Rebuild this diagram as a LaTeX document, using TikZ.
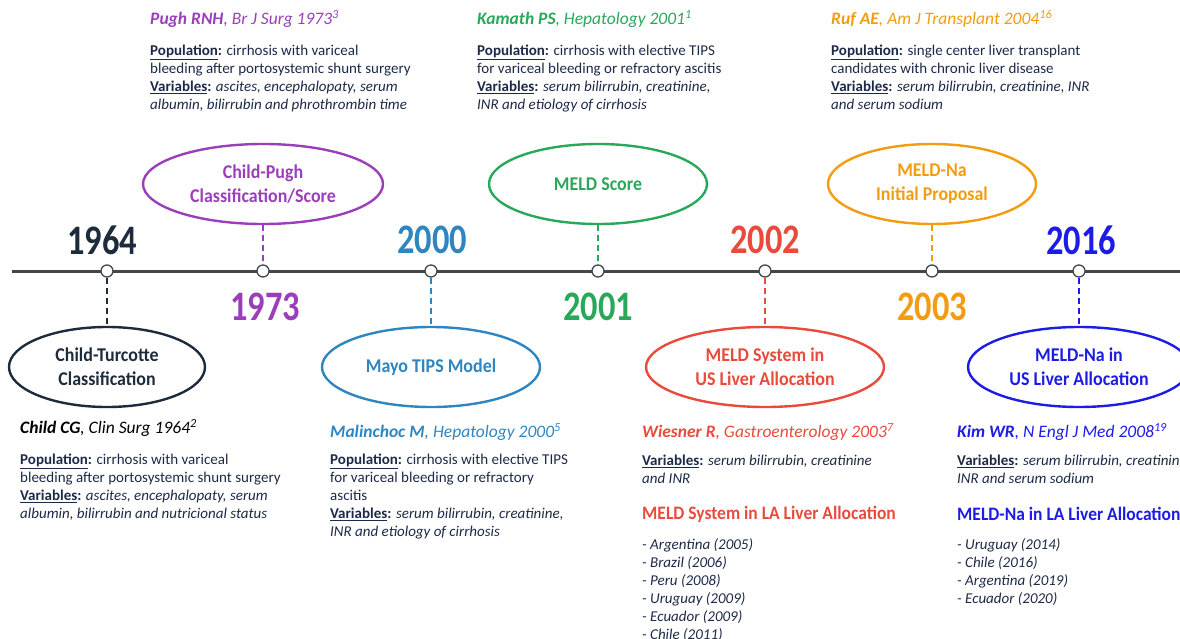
\documentclass[tikz,border=0pt]{standalone}
\usepackage{fontspec}
\setmainfont{Carlito}
\newfontfamily\condfont{Carlito}[FakeStretch=0.82]
\newfontfamily\narrowfont{Carlito}[FakeStretch=0.92]
\usetikzlibrary{shapes.geometric}
\definecolor{ink}{HTML}{1C2A48}
\definecolor{axis}{HTML}{41474F}
\definecolor{dark}{HTML}{1E2B3C}
\definecolor{purple}{HTML}{9A3FB9}
\definecolor{steel}{HTML}{2E86C1}
\definecolor{green}{HTML}{2AA85A}
\definecolor{red}{HTML}{E84B3C}
\definecolor{orange}{HTML}{F39C12}
\definecolor{vivid}{HTML}{1C1CE4}
\newcommand{\popl}{\textbf{\underline{Population}:}}
\newcommand{\varl}{\textbf{\underline{Variables}:}}
\tikzset{
  yearlabel/.style={inner sep=0pt, font=\condfont\bfseries\fontsize{42}{42}\selectfont},
  oval/.style={ellipse, draw, line width=2.4pt, minimum height=80pt, inner sep=0pt,
    align=center, font=\narrowfont\bfseries\fontsize{19.5}{24}\selectfont},
  yearstop/.style={circle, draw=axis, fill=white, line width=1.3pt, minimum size=12pt, inner sep=0pt},
  link/.style={dash pattern=on 6pt off 4pt, line width=1.5pt},
  reftitle/.style={anchor=west, inner sep=0pt, font=\itshape\fontsize{17.5}{18}\selectfont},
  refbody/.style={anchor=north west, inner sep=0pt, align=left, text=ink,
    font=\fontsize{15}{18}\selectfont},
  allochead/.style={anchor=west, inner sep=0pt, font=\narrowfont\bfseries\fontsize{19}{24}\selectfont},
}
\begin{document}
\begin{tikzpicture}[x=1pt, y=-1pt]
  \useasboundingbox (0,0) rectangle (1180,639);

  % timeline
  \coordinate (tl-start) at (12,271);
  \coordinate (tl-end) at (1180,271);
  \draw[axis, line width=3pt] (tl-start) -- (tl-end);
  \foreach \yr/\px in {1964/107, 1973/263, 2000/431, 2001/598, 2002/765, 2003/932, 2016/1079}
    \node[yearstop] (s\yr) at (\px,271) {};

  % years
  \node[yearlabel, text=dark]   (y1964) at (102,240) {1964};
  \node[yearlabel, text=purple] (y1973) at (265,307) {1973};
  \node[yearlabel, text=steel]  (y2000) at (432,240) {2000};
  \node[yearlabel, text=green]  (y2001) at (598,307) {2001};
  \node[yearlabel, text=red]    (y2002) at (765,240) {2002};
  \node[yearlabel, text=orange] (y2003) at (932,307) {2003};
  \node[yearlabel, text=vivid]  (y2016) at (1081,240) {2016};

  % ovals above the line
  \node[oval, draw=purple, text=purple, minimum width=240pt] (cp) at (263,184) {Child-Pugh\\Classification/Score};
  \node[oval, draw=green, text=green, minimum width=218pt] (meld) at (598,184) {MELD Score};
  \node[oval, draw=orange, text=orange, minimum width=208pt] (meldna) at (932,184) {MELD-Na\\Initial Proposal};

  % ovals below the line
  \node[oval, draw=dark, text=dark, minimum width=196pt] (ct) at (107,367) {Child-Turcotte\\Classification};
  \node[oval, draw=steel, text=steel, minimum width=218pt] (mayo) at (431,367) {Mayo TIPS Model};
  \node[oval, draw=red, text=red, minimum width=238pt] (meldus) at (765,367) {MELD System in\\US Liver Allocation};
  \node[oval, draw=vivid, text=vivid, minimum width=222pt] (meldnaus) at (1079,367) {MELD-Na in\\US Liver Allocation};

  \foreach \from/\to/\col in {cp/s1973/purple, meld/s2001/green, meldna/s2003/orange}
    \draw[link, \col] (\from.south) -- (\to.north);
  \foreach \from/\to/\col in {s1964/ct/dark, s2000/mayo/steel, s2002/meldus/red, s2016/meldnaus/vivid}
    \draw[link, \col] (\from.south) -- (\to.north);

  % references above
  \node[reftitle, text=purple] (pugh) at (150,19) {\textbf{Pugh RNH}, Br J Surg 1973\textsuperscript{3}};
  \node[refbody] (pugh-txt) at (150,45) {\popl{} cirrhosis with variceal\\bleeding after portosystemic shunt surgery\\
    \varl{} \textit{ascites, encephalopaty, serum}\\\textit{albumin, bilirrubin and phrothrombin time}};
  \node[reftitle, text=green] (kamath) at (477,19) {\textbf{Kamath PS}, Hepatology 2001\textsuperscript{1}};
  \node[refbody] (kamath-txt) at (477,45) {\popl{} cirrhosis with elective TIPS\\for variceal bleeding or refractory ascitis\\
    \varl{} \textit{serum bilirrubin, creatinine,}\\\textit{INR and etiology of cirrhosis}};
  \node[reftitle, text=orange] (ruf) at (831,19) {\textbf{Ruf AE}, Am J Transplant 2004\textsuperscript{16}};
  \node[refbody] (ruf-txt) at (831,45) {\popl{} single center liver transplant\\candidates with chronic liver disease\\
    \varl{} \textit{serum bilirrubin, creatinine, INR}\\\textit{and serum sodium}};

  % references below
  \node[reftitle, text=black] (child) at (20,428) {\textbf{Child CG}, Clin Surg 1964\textsuperscript{2}};
  \node[refbody] (child-txt) at (20,454) {\popl{} cirrhosis with variceal\\bleeding after portosystemic shunt surgery\\
    \varl{} \textit{ascites, encephalopaty, serum}\\\textit{albumin, bilirrubin and nutricional status}};
  \node[reftitle, text=steel] (malinchoc) at (330,432) {\textbf{Malinchoc M}, Hepatology 2000\textsuperscript{5}};
  \node[refbody] (malinchoc-txt) at (330,454) {\popl{} cirrhosis with elective TIPS\\for variceal bleeding or refractory\\ascitis\\
    \varl{} \textit{serum bilirrubin, creatinine,}\\\textit{INR and etiology of cirrhosis}};
  \node[reftitle, text=red] (wiesner) at (642,432) {\textbf{Wiesner R}, Gastroenterology 2003\textsuperscript{7}};
  \node[refbody] (wiesner-txt) at (642,455) {\varl{} \textit{serum bilirrubin, creatinine}\\\textit{and INR}};
  \node[allochead, text=red] (meld-la) at (642,514) {MELD System in LA Liver Allocation};
  \node[refbody] (meld-la-list) at (642,538) {\textit{- Argentina (2005)}\\\textit{- Brazil (2006)}\\\textit{- Peru (2008)}\\
    \textit{- Uruguay (2009)}\\\textit{- Ecuador (2009)}\\\textit{- Chile (2011)}};
  \node[reftitle, text=vivid] (kim) at (957,432) {\textbf{Kim WR}, N Engl J Med 2008\textsuperscript{19}};
  \node[refbody] (kim-txt) at (957,455) {\varl{} \textit{serum bilirrubin, creatinine,}\\\textit{INR and serum sodium}};
  \node[allochead, text=vivid] (meldna-la) at (957,514) {MELD-Na in LA Liver Allocation};
  \node[refbody] (meldna-la-list) at (957,538) {\textit{- Uruguay (2014)}\\\textit{- Chile (2016)}\\\textit{- Argentina (2019)}\\
    \textit{- Ecuador (2020)}};
\end{tikzpicture}
\end{document}
